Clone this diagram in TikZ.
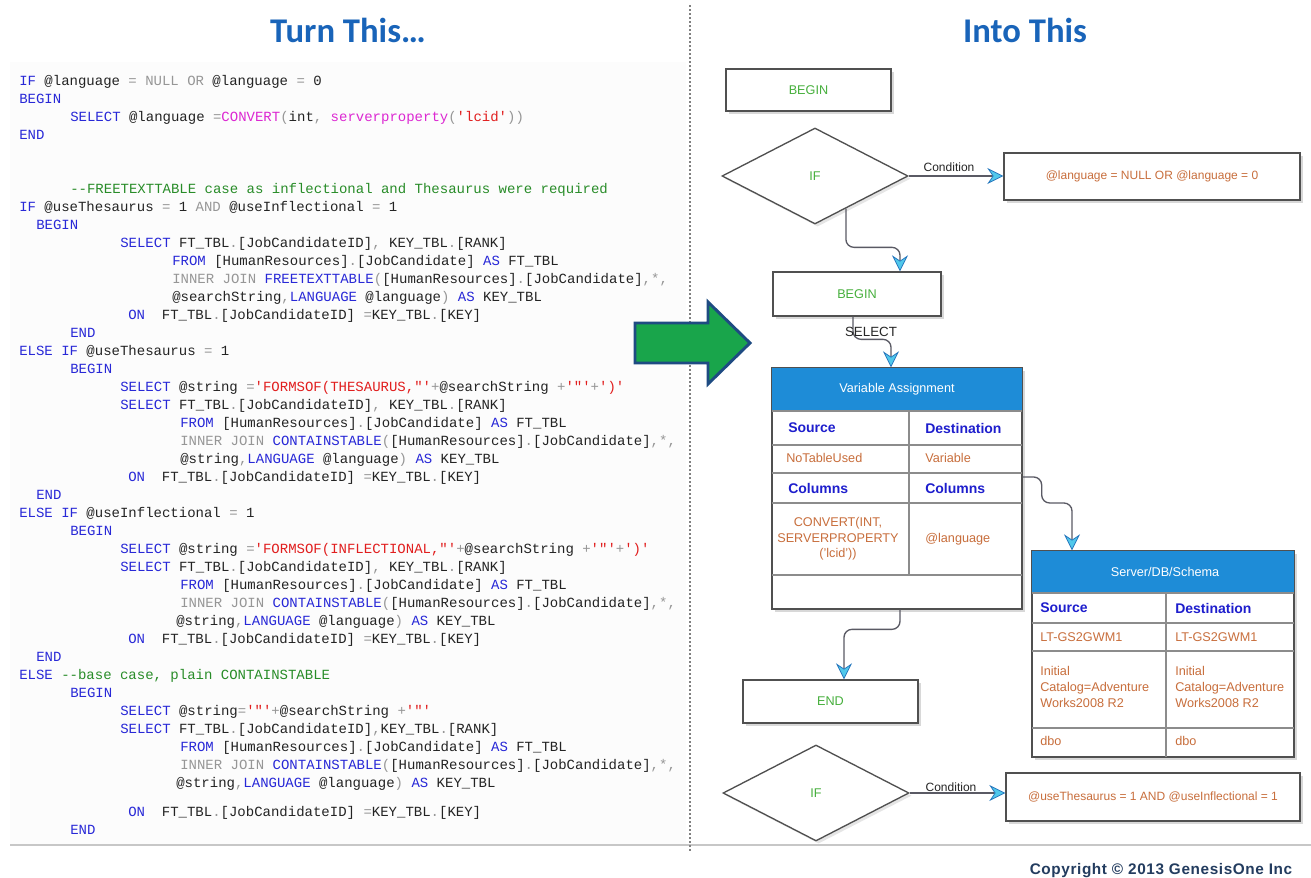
\documentclass[tikz,border=0pt]{standalone}
\usepackage{fontspec}
\setmainfont{Liberation Sans}
\setmonofont{Liberation Mono}
\newfontfamily\headfont{Carlito}
\newfontfamily\copyfont{Liberation Sans}[LetterSpace=4]
\usetikzlibrary{arrows.meta,shapes.geometric,shadows,calc}

\definecolor{kwc}{RGB}{40,40,215}
\definecolor{opc}{RGB}{150,150,150}
\definecolor{fnc}{RGB}{220,40,210}
\definecolor{stc}{RGB}{225,30,30}
\definecolor{cmc}{RGB}{40,140,40}
\definecolor{codetext}{RGB}{35,35,35}
\definecolor{headblue}{RGB}{25,100,185}
\definecolor{flowgreen}{RGB}{70,175,60}
\definecolor{orangetxt}{RGB}{200,110,60}
\definecolor{hdrblue}{RGB}{30,140,215}
\definecolor{labelblue}{RGB}{30,30,205}
\definecolor{boxline}{RGB}{80,80,80}
\definecolor{gridline}{RGB}{140,140,140}
\definecolor{connline}{RGB}{90,90,100}
\definecolor{tipfill}{RGB}{80,200,235}
\definecolor{tipdraw}{RGB}{40,120,190}
\definecolor{arrowgreen}{RGB}{25,165,75}
\definecolor{arrowblue}{RGB}{30,75,130}
\definecolor{copyc}{RGB}{35,60,95}
\definecolor{codebg}{RGB}{252,252,252}

\newcommand\Kw[1]{\textcolor{kwc}{#1}}
\newcommand\Op[1]{\textcolor{opc}{#1}}
\newcommand\Fn[1]{\textcolor{fnc}{#1}}
\newcommand\St[1]{\textcolor{stc}{#1}}
\newcommand\Cm[1]{\textcolor{cmc}{#1}}
\newcommand\pxl[1]{#1*0.75pt}
\newcommand\cl[4]{\node[codeline] (#1) at (#2,#3) {#4};}

\tikzset{
  codeline/.style={anchor=base west, inner sep=0pt, text=codetext,
    font=\ttfamily\fontsize{10.5}{12}\selectfont\frenchspacing},
  shbox/.style={draw=boxline, line width=1pt, fill=white, inner sep=0pt,
    drop shadow={shadow xshift=2.5pt, shadow yshift=-2.5pt, opacity=0.3}},
  fdia/.style={diamond, draw=boxline, line width=1pt, fill=white, inner sep=0pt,
    drop shadow={shadow xshift=2pt, shadow yshift=-2pt, opacity=0.2}},
  flowtxt/.style={text=flowgreen, font=\fontsize{9.5}{11}\selectfont},
  condtxt/.style={text=orangetxt, font=\fontsize{9}{11}\selectfont},
  lbltxt/.style={text=black!85, font=\fontsize{9}{11}\selectfont, inner sep=1pt},
  hdrtxt/.style={text=white, font=\fontsize{9.5}{11}\selectfont, inner sep=0pt},
  colhead/.style={anchor=west, inner sep=0pt, text=labelblue, font=\bfseries\fontsize{10.5}{12}\selectfont},
  celltxt/.style={anchor=west, inner sep=0pt, text=orangetxt, font=\fontsize{9.5}{12}\selectfont, align=left},
  grid/.style={draw=gridline, line width=0.9pt},
  border/.style={draw=boxline, line width=1pt},
  conn/.style={draw=connline, line width=1pt, rounded corners=6pt,
    -{Stealth[length=12pt, width=12pt, inset=4pt, fill=tipfill, color=tipdraw, line width=0.6pt]}},
}

\begin{document}
\begin{tikzpicture}[x=0.75pt,y=-0.75pt]
\useasboundingbox (0,0) rectangle (1311,878);
\fill[white] (0,0) rectangle (1311,878);

% panels
\fill[codebg] (10,62) rectangle (686,845);
\draw[draw=black!22, line width=1.1pt] (10,845) -- (1311,845);
\draw[draw=black!50, line width=1.4pt, dash pattern=on 1.3pt off 1.7pt] (690,5) -- (690,852);

% headings
\node[text=headblue, font=\headfont\bfseries\fontsize{26}{30}\selectfont] (h1) at (348,30) {Turn This…};
\node[text=headblue, font=\headfont\bfseries\fontsize{26}{30}\selectfont] (h2) at (1025,30) {Into This};

% code
\cl{c0}{19}{85}{\Kw{IF} @language \Op{= NULL OR} @language \Op{=} 0}
\cl{c1}{19}{103}{\Kw{BEGIN}}
\cl{c2}{70}{121}{\Kw{SELECT} @language \Op{=}\Fn{CONVERT}\Op{(}int\Op{,} \Fn{serverproperty}\Op{(}\St{'lcid'}\Op{))}}
\cl{c3}{19}{139}{\Kw{END}}
\cl{c4}{70}{193}{\Cm{--FREETEXTTABLE case as inflectional and Thesaurus were required}}
\cl{c5}{19}{211}{\Kw{IF} @useThesaurus \Op{=} 1 \Op{AND} @useInflectional \Op{=} 1}
\cl{c6}{36}{229}{\Kw{BEGIN}}
\cl{c7}{120}{247}{\Kw{SELECT} FT\_TBL\Op{.}[JobCandidateID]\Op{,} KEY\_TBL\Op{.}[RANK]}
\cl{c8}{172}{265}{\Kw{FROM} [HumanResources]\Op{.}[JobCandidate] \Kw{AS} FT\_TBL}
\cl{c9}{172}{283}{\Op{INNER JOIN} \Kw{FREETEXTTABLE}\Op{(}[HumanResources]\Op{.}[JobCandidate]\Op{,*,}}
\cl{c10}{172}{301}{@searchString\Op{,}\Kw{LANGUAGE} @language\Op{)} \Kw{AS} KEY\_TBL}
\cl{c11}{128}{319}{\Kw{ON}~~FT\_TBL\Op{.}[JobCandidateID] \Op{=}KEY\_TBL\Op{.}[KEY]}
\cl{c12}{70}{337}{\Kw{END}}
\cl{c13}{19}{355}{\Kw{ELSE IF} @useThesaurus \Op{=} 1}
\cl{c14}{70}{373}{\Kw{BEGIN}}
\cl{c15}{120}{391}{\Kw{SELECT} @string \Op{=}\St{'FORMSOF(THESAURUS,"'}\Op{+}@searchString \Op{+}\St{'"'}\Op{+}\St{')'}}
\cl{c16}{120}{409}{\Kw{SELECT} FT\_TBL\Op{.}[JobCandidateID]\Op{,} KEY\_TBL\Op{.}[RANK]}
\cl{c17}{180}{427}{\Kw{FROM} [HumanResources]\Op{.}[JobCandidate] \Kw{AS} FT\_TBL}
\cl{c18}{180}{445}{\Op{INNER JOIN} \Kw{CONTAINSTABLE}\Op{(}[HumanResources]\Op{.}[JobCandidate]\Op{,*,}}
\cl{c19}{180}{463}{@string\Op{,}\Kw{LANGUAGE} @language\Op{)} \Kw{AS} KEY\_TBL}
\cl{c20}{128}{481}{\Kw{ON}~~FT\_TBL\Op{.}[JobCandidateID] \Op{=}KEY\_TBL\Op{.}[KEY]}
\cl{c21}{36}{499}{\Kw{END}}
\cl{c22}{19}{517}{\Kw{ELSE IF} @useInflectional \Op{=} 1}
\cl{c23}{70}{535}{\Kw{BEGIN}}
\cl{c24}{120}{553}{\Kw{SELECT} @string \Op{=}\St{'FORMSOF(INFLECTIONAL,"'}\Op{+}@searchString \Op{+}\St{'"'}\Op{+}\St{')'}}
\cl{c25}{120}{571}{\Kw{SELECT} FT\_TBL\Op{.}[JobCandidateID]\Op{,} KEY\_TBL\Op{.}[RANK]}
\cl{c26}{180}{589}{\Kw{FROM} [HumanResources]\Op{.}[JobCandidate] \Kw{AS} FT\_TBL}
\cl{c27}{180}{607}{\Op{INNER JOIN} \Kw{CONTAINSTABLE}\Op{(}[HumanResources]\Op{.}[JobCandidate]\Op{,*,}}
\cl{c28}{176}{625}{@string\Op{,}\Kw{LANGUAGE} @language\Op{)} \Kw{AS} KEY\_TBL}
\cl{c29}{128}{643}{\Kw{ON}~~FT\_TBL\Op{.}[JobCandidateID] \Op{=}KEY\_TBL\Op{.}[KEY]}
\cl{c30}{36}{661}{\Kw{END}}
\cl{c31}{19}{679}{\Kw{ELSE} \Cm{--base case, plain CONTAINSTABLE}}
\cl{c32}{70}{697}{\Kw{BEGIN}}
\cl{c33}{120}{715}{\Kw{SELECT} @string\Op{=}\St{'"'}\Op{+}@searchString \Op{+}\St{'"'}}
\cl{c34}{120}{733}{\Kw{SELECT} FT\_TBL\Op{.}[JobCandidateID]\Op{,}KEY\_TBL\Op{.}[RANK]}
\cl{c35}{180}{751}{\Kw{FROM} [HumanResources]\Op{.}[JobCandidate] \Kw{AS} FT\_TBL}
\cl{c36}{180}{769}{\Op{INNER JOIN} \Kw{CONTAINSTABLE}\Op{(}[HumanResources]\Op{.}[JobCandidate]\Op{,*,}}
\cl{c37}{176}{787}{@string\Op{,}\Kw{LANGUAGE} @language\Op{)} \Kw{AS} KEY\_TBL}
\cl{c38}{128}{816}{\Kw{ON}~~FT\_TBL\Op{.}[JobCandidateID] \Op{=}KEY\_TBL\Op{.}[KEY]}
\cl{c39}{70}{834}{\Kw{END}}

% big green arrow
\draw[draw=arrowblue, fill=arrowgreen, line width=2.2pt, line join=miter]
  (635,323) -- (708,323) -- (708,302) -- (750,343) -- (708,384) -- (708,363) -- (635,363) -- cycle;

% flowchart nodes
\node[shbox, flowtxt, minimum width=\pxl{165}, minimum height=\pxl{42}] (begin1) at (808.5,90) {BEGIN};
\node[fdia, flowtxt, minimum width=\pxl{186}, minimum height=\pxl{96}] (if1) at (815,176) {IF};
\node[shbox, condtxt, minimum width=\pxl{296}, minimum height=\pxl{47}] (cond1) at (1152,176.5) {@language = NULL OR @language = 0};
\node[shbox, flowtxt, minimum width=\pxl{168}, minimum height=\pxl{44}] (begin2) at (857,294) {BEGIN};

% variable assignment table
\node[shbox, minimum width=\pxl{250}, minimum height=\pxl{241}] (vartab) at (897,488.5) {};
\fill[hdrblue] (772,368) rectangle (1022,411);
\draw[grid] (772,411) -- (1022,411);
\draw[grid] (772,445) -- (1022,445);
\draw[grid] (772,473) -- (1022,473);
\draw[grid] (772,503) -- (1022,503);
\draw[grid] (772,575) -- (1022,575);
\draw[grid] (909,411) -- (909,575);
\draw[border] (vartab.north west) rectangle (vartab.south east);
\node[hdrtxt] (vahdr) at (897,389) {Variable Assignment};
\node[colhead] (vas) at (788,428) {Source};
\node[colhead] (vad) at (925,428) {Destination};
\node[celltxt] (van) at (786,458) {NoTableUsed};
\node[celltxt] (vav) at (925,458) {Variable};
\node[colhead] (vac1) at (788,488) {Columns};
\node[colhead] (vac2) at (925,488) {Columns};
\node[celltxt, anchor=center, align=center, font=\fontsize{9.5}{11.6}\selectfont] (vacv) at (838,539) {CONVERT(INT,\\SERVERPROPERTY\\('lcid'))};
\node[celltxt] (val) at (925,539) {@language};

% server table
\node[shbox, minimum width=\pxl{262}, minimum height=\pxl{206}] (srvtab) at (1163,654) {};
\fill[hdrblue] (1032,551) rectangle (1294,593);
\draw[grid] (1032,593) -- (1294,593);
\draw[grid] (1032,623) -- (1294,623);
\draw[grid] (1032,651) -- (1294,651);
\draw[grid] (1032,728) -- (1294,728);
\draw[grid] (1166,593) -- (1166,757);
\draw[border] (srvtab.north west) rectangle (srvtab.south east);
\node[hdrtxt] (svhdr) at (1165,572) {Server/DB/Schema};
\node[colhead] (svs) at (1040,608) {Source};
\node[colhead] (svd) at (1175,608) {Destination};
\node[celltxt] (svl1) at (1040,637) {LT-GS2GWM1};
\node[celltxt] (svl2) at (1175,637) {LT-GS2GWM1};
\node[celltxt] (svi1) at (1040,687) {Initial\\Catalog=Adventure\\Works2008 R2};
\node[celltxt] (svi2) at (1175,687) {Initial\\Catalog=Adventure\\Works2008 R2};
\node[celltxt] (svb1) at (1040,741) {dbo};
\node[celltxt] (svb2) at (1175,741) {dbo};

\node[shbox, flowtxt, minimum width=\pxl{175}, minimum height=\pxl{43}] (endn) at (830.5,701.5) {END};
\node[fdia, flowtxt, minimum width=\pxl{186}, minimum height=\pxl{96}] (if2) at (816,793) {IF};
\node[shbox, condtxt, minimum width=\pxl{294}, minimum height=\pxl{48}] (cond2) at (1153,797) {@useThesaurus = 1 AND @useInflectional = 1};

% connectors
\draw[conn] (if1.east) -- (cond1.west |- if1.east);
\node[lbltxt] (lab1) at (949,167) {Condition};
\coordinate (s1) at ($(if1.south)!0.33!(if1.east)$);
\draw[conn] (s1) |- ($(begin2.north)+(43,-24)$) -- ($(begin2.north)+(43,0)$);
\draw[conn] ($(begin2.south)+(-4,0)$) |- ($(vartab.north)+(-6,-28)$) -- ($(vartab.north)+(-6,0)$);
\node[lbltxt, font=\fontsize{10}{12}\selectfont] (lab2) at (871,332) {SELECT};
\draw[conn] ($(vartab.east)+(0,-11.5)$) -| ($(vartab.east)+(19,14.5)$) -| ($(srvtab.north)+(-91,0)$);
\draw[conn] ($(vartab.south)+(3,0)$) |- ($(endn.north)+(13.5,-50)$) -- ($(endn.north)+(13.5,0)$);
\draw[conn] (if2.east) -- (cond2.west |- if2.east);
\node[lbltxt] (lab3) at (951,787) {Condition};

% copyright
\node[text=copyc, font=\copyfont\bfseries\fontsize{11.5}{13}\selectfont] (copy) at (1161,871) {Copyright © 2013 GenesisOne Inc};
\end{tikzpicture}
\end{document}
